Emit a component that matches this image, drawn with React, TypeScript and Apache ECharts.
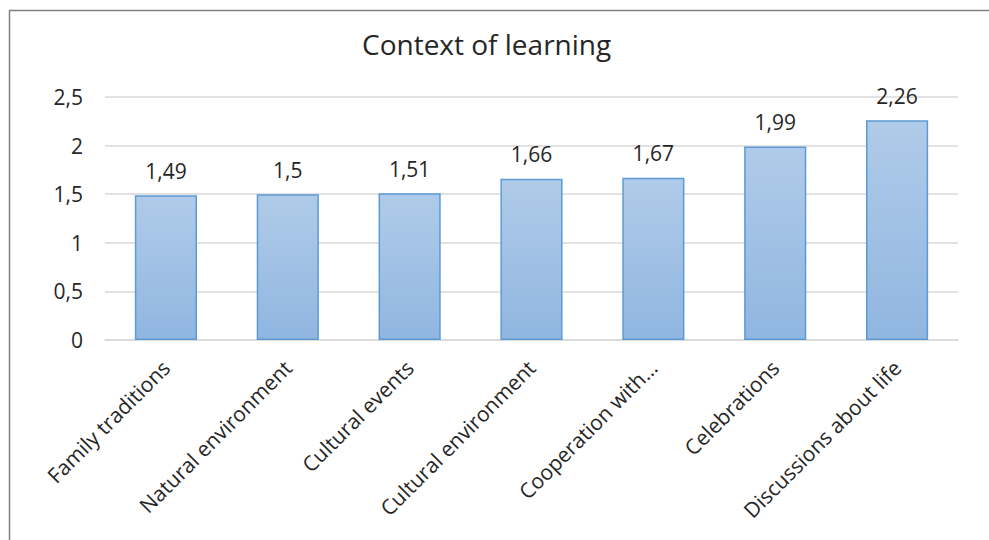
import React, { useEffect, useRef } from "react";
import * as echarts from "echarts";

const categories = [
  "Family traditions",
  "Natural environment",
  "Cultural events",
  "Cultural environment",
  "Cooperation with…",
  "Celebrations",
  "Discussions about life",
];
const values = [1.49, 1.5, 1.51, 1.66, 1.67, 1.99, 2.26];
const titleText = "Context of learning";

const FONT = "'Open Sans', sans-serif";
const fmt = (v: number) => String(v).replace(".", ",");

export default function App() {
  const ref = useRef<HTMLDivElement>(null);
  useEffect(() => {
    if (!ref.current) return;
    const chart = echarts.init(ref.current, null, { renderer: "svg" });
    chart.setOption({
      animation: false,
      backgroundColor: "#ffffff",
      title: {
        text: titleText,
        left: 357,
        top: 25,
        textStyle: { fontFamily: FONT, fontSize: 28, fontWeight: "normal", color: "#262626" },
      },
      graphic: [
        {
          type: "rect",
          shape: { x: 9.5, y: 10.5, width: 1000, height: 600 },
          style: { fill: "none", stroke: "#7f7f7f", lineWidth: 1.5 },
          silent: true,
        },
      ],
      grid: { left: 105, right: 31, top: 97, bottom: 200, containLabel: false },
      xAxis: {
        type: "category",
        data: categories,
        axisTick: { show: false },
        axisLine: { show: true, lineStyle: { color: "#d9d9d9", width: 1.5 } },
        axisLabel: {
          rotate: 45,
          interval: 0,
          margin: 24,
          fontFamily: FONT,
          fontSize: 21,
          color: "#262626",
        },
      },
      yAxis: {
        type: "value",
        min: 0,
        max: 2.5,
        interval: 0.5,
        axisLine: { show: false },
        axisTick: { show: false },
        splitLine: { lineStyle: { color: "#d9d9d9", width: 1.5 } },
        axisLabel: {
          formatter: (v: number) => fmt(v),
          fontFamily: FONT,
          fontSize: 21,
          color: "#262626",
          margin: 22,
        },
      },
      series: [
        {
          type: "bar",
          data: values,
          barWidth: "51%",
          itemStyle: {
            color: new echarts.graphic.LinearGradient(0, 0, 0, 1, [
              { offset: 0, color: "#b0cbe9" },
              { offset: 1, color: "#90b6e0" },
            ]),
            borderColor: "#5b9bd5",
            borderWidth: 1.5,
          },
          label: {
            show: true,
            position: "top",
            distance: 14,
            formatter: (p: any) => fmt(p.value),
            fontFamily: FONT,
            fontSize: 21,
            color: "#262626",
          },
        },
      ],
    });
    return () => chart.dispose();
  }, []);
  return (
    <div
      ref={ref}
      style={{ position: "fixed", left: 0, top: 0, width: 989, height: 540 }}
    />
  );
}
